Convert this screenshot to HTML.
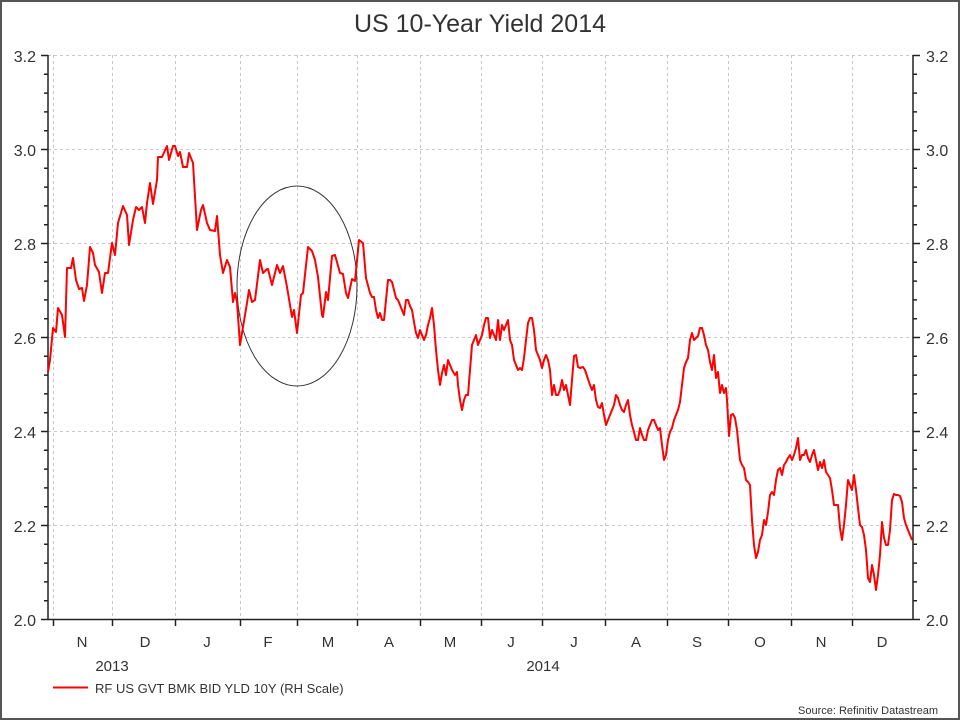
<!DOCTYPE html>
<html><head><meta charset="utf-8"><style>
html,body{margin:0;padding:0;background:#fff}
svg{display:block}
text{font-family:"Liberation Sans",sans-serif;fill:#333}
</style></head><body>
<svg width="960" height="720" viewBox="0 0 960 720" xmlns="http://www.w3.org/2000/svg">
<rect x="1" y="1" width="958" height="718" fill="#fff" stroke="#555" stroke-width="2"/>
<text x="480" y="32" font-size="25" text-anchor="middle">US 10-Year Yield 2014</text>
<g stroke="#c8c8c8" stroke-width="1" stroke-dasharray="3,3">
<line x1="48" y1="55.5" x2="913" y2="55.5"/>
<line x1="48" y1="149.5" x2="913" y2="149.5"/>
<line x1="48" y1="243.5" x2="913" y2="243.5"/>
<line x1="48" y1="337.5" x2="913" y2="337.5"/>
<line x1="48" y1="431.5" x2="913" y2="431.5"/>
<line x1="48" y1="525.5" x2="913" y2="525.5"/>
<line x1="53.5" y1="55" x2="53.5" y2="619"/>
<line x1="112.5" y1="55" x2="112.5" y2="619"/>
<line x1="175.5" y1="55" x2="175.5" y2="619"/>
<line x1="240.5" y1="55" x2="240.5" y2="619"/>
<line x1="297.5" y1="55" x2="297.5" y2="619"/>
<line x1="357.5" y1="55" x2="357.5" y2="619"/>
<line x1="420.5" y1="55" x2="420.5" y2="619"/>
<line x1="481.5" y1="55" x2="481.5" y2="619"/>
<line x1="542.5" y1="55" x2="542.5" y2="619"/>
<line x1="605.5" y1="55" x2="605.5" y2="619"/>
<line x1="667.5" y1="55" x2="667.5" y2="619"/>
<line x1="728.5" y1="55" x2="728.5" y2="619"/>
<line x1="791.5" y1="55" x2="791.5" y2="619"/>
<line x1="852.5" y1="55" x2="852.5" y2="619"/>
</g>
<g stroke="#222" stroke-width="1.5" fill="none">
<line x1="48" y1="55" x2="48" y2="620"/>
<line x1="913" y1="55" x2="913" y2="620"/>
<line x1="41" y1="619.5" x2="920" y2="619.5"/>
<path d="M41 55.5H48M41 149.5H48M41 243.5H48M41 337.5H48M41 431.5H48M41 525.5H48
M913 55.5H920M913 149.5H920M913 243.5H920M913 337.5H920M913 431.5H920M913 525.5H920"/>
<path id="mn" d="M44 74.3H48M44 93.1H48M44 111.9H48M44 130.7H48M44 168.3H48M44 187.1H48M44 205.9H48M44 224.7H48M44 262.3H48M44 281.1H48M44 299.9H48M44 318.7H48M44 356.3H48M44 375.1H48M44 393.9H48M44 412.7H48M44 450.3H48M44 469.1H48M44 487.9H48M44 506.7H48M44 544.3H48M44 563.1H48M44 581.9H48M44 600.7H48"/>
<use href="#mn" transform="translate(869,0)" />
<path d="M53.5 620V626M112.5 620V626M175.5 620V626M240.5 620V626M297.5 620V626M357.5 620V626M420.5 620V626M481.5 620V626M542.5 620V626M605.5 620V626M667.5 620V626M728.5 620V626M791.5 620V626M852.5 620V626"/>
</g>
<g font-size="16">
<text x="36" y="62" text-anchor="end">3.2</text>
<text x="36" y="156" text-anchor="end">3.0</text>
<text x="36" y="250" text-anchor="end">2.8</text>
<text x="36" y="344" text-anchor="end">2.6</text>
<text x="36" y="438" text-anchor="end">2.4</text>
<text x="36" y="532" text-anchor="end">2.2</text>
<text x="36" y="626" text-anchor="end">2.0</text>
<text x="926" y="62">3.2</text>
<text x="926" y="156">3.0</text>
<text x="926" y="250">2.8</text>
<text x="926" y="344">2.6</text>
<text x="926" y="438">2.4</text>
<text x="926" y="532">2.2</text>
<text x="926" y="626">2.0</text>
</g>
<g font-size="15" text-anchor="middle">
<text x="82" y="647">N</text><text x="145" y="647">D</text><text x="207" y="647">J</text>
<text x="268" y="647">F</text><text x="328" y="647">M</text><text x="389" y="647">A</text>
<text x="450" y="647">M</text><text x="511" y="647">J</text><text x="574" y="647">J</text>
<text x="636" y="647">A</text><text x="697" y="647">S</text><text x="760" y="647">O</text>
<text x="821" y="647">N</text><text x="882" y="647">D</text>
<text x="112" y="671">2013</text><text x="543" y="671">2014</text>
</g>
<ellipse cx="297" cy="286" rx="60" ry="100" fill="none" stroke="#333" stroke-width="1"/>
<polyline fill="none" stroke="#ff0000" stroke-width="2" stroke-linejoin="round" points="48,372 50,360 53,328 56,332 58,308 62,315 65,337 67,268 71,268 73,258 76,280 79,289 82,288 84,301 87,285 90,247 93,253 95,265 99,272 102,293 105,273 108,273 112,243 115,255 118,223 123,206 127,215 129,245 133,220 136,207 139,210 142,207 145,223 147,203 150,183 153,204 157,180 158,157 162,157 167,146 169,160 173,146 175,146 178,156 180,152 183,167 187,167 189,153 193,163 197,230 201,210 203,205 207,223 210,230 215,231 217,216 220,255 223,273 227,260 230,267 233,302 235,293 237,302 240,345 243,327 247,303 249,290 252,302 255,300 260,260 263,273 267,269 268,269 272,285 277,265 280,273 283,266 287,287 292,317 294,310 297,333 301,295 303,293 308,247 312,251 315,260 318,277 322,315 323,317 326,292 328,300 332,256 335,255 340,273 343,274 346,293 348,298 352,279 355,281 359,240 363,243 366,278 370,293 372,297 374,297 376,310 378,318 380,313 382,320 384,320 386,300 388,280 390,280 392,282 394,290 396,298 398,300 400,305 402,310 404,315 406,300 408,300 410,306 412,310 414,322 416,333 418,338 420,330 422,335 424,340 426,335 428,325 430,318 432,308 434,325 436,350 438,370 440,385 442,373 444,365 446,375 448,360 450,365 452,370 455,375 457,372 458,385 460,400 462,410 464,400 466,395 468,395 470,370 472,345 474,340 476,335 478,345 480,340 482,335 484,325 486,318 488,318 490,338 492,330 494,335 496,340 498,320 500,340 502,325 504,330 506,325 508,320 510,340 512,345 514,360 516,365 518,370 520,368 522,370 524,358 526,340 528,323 530,318 532,318 534,330 536,350 538,355 540,360 542,368 544,360 546,355 548,360 550,370 552,395 554,385 556,395 558,395 560,390 562,380 564,390 566,385 568,395 570,405 572,380 574,356 576,355 578,367 580,368 583,367 585,370 587,376 590,385 592,390 594,385 596,400 598,407 600,408 602,403 604,415 606,425 608,420 610,415 612,410 614,405 616,395 618,398 620,405 622,410 624,412 626,405 628,400 630,415 632,425 634,432 636,440 638,440 640,428 642,435 644,440 646,440 648,430 650,425 652,420 654,420 656,425 658,430 660,428 662,445 664,460 666,455 668,440 670,432 672,428 674,420 676,415 678,410 680,402 682,385 684,368 686,362 688,358 690,340 692,333 694,340 696,338 698,336 700,328 702,328 704,335 706,345 708,350 710,362 712,370 714,355 716,378 718,372 720,393 722,385 724,393 726,388 727,400 729,436 731,415 733,414 735,418 737,430 740,460 742,465 744,468 746,480 748,482 750,485 752,520 754,545 756,558 758,552 760,540 762,535 764,520 766,525 768,512 770,495 772,492 774,495 776,480 778,470 780,468 782,475 784,465 786,462 788,458 790,455 792,460 794,455 796,448 798,438 800,460 802,455 804,455 806,450 808,458 810,462 812,455 814,450 816,460 818,470 820,462 822,468 824,460 826,472 828,475 830,478 832,490 834,505 836,505 838,505 840,528 842,540 844,525 846,505 848,480 850,485 852,490 854,475 856,490 858,508 860,525 862,527 864,535 866,550 868,578 870,582 872,565 874,575 876,590 878,575 880,555 882,522 884,538 886,545 888,545 890,530 892,500 894,494 896,495 898,495 900,496 902,502 904,518 906,525 908,530 910,535 912,540"/>
<line x1="53" y1="687.5" x2="88" y2="687.5" stroke="#ff0000" stroke-width="2"/>
<text x="95" y="693" font-size="13">RF US GVT BMK BID YLD 10Y (RH Scale)</text>
<text x="938" y="714" font-size="11" text-anchor="end" fill="#222">Source: Refinitiv Datastream</text>
</svg>
</body></html>
